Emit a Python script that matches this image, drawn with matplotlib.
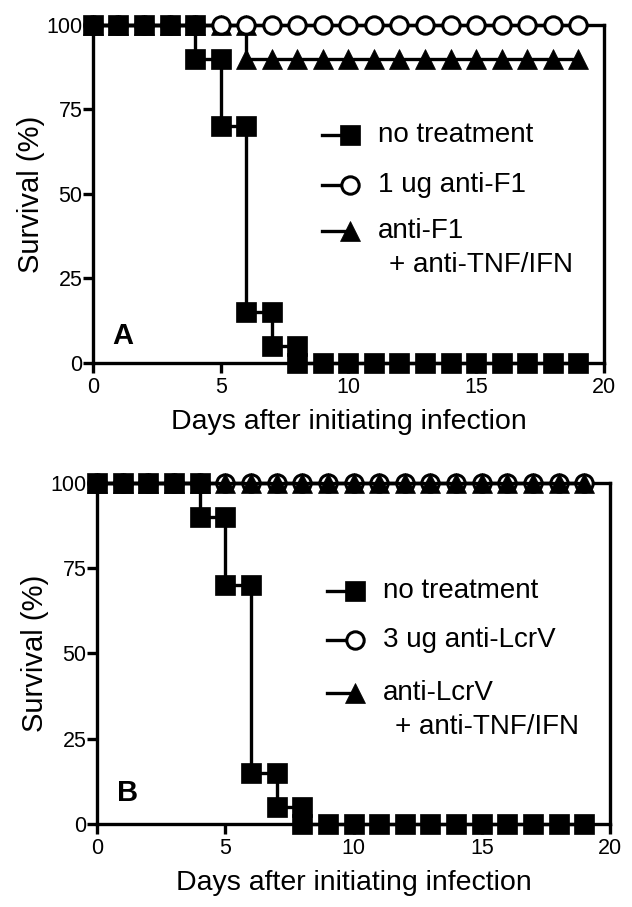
import matplotlib
matplotlib.use("Agg")
import matplotlib.pyplot as plt

plt.rcParams['font.family'] = ['Liberation Sans', 'DejaVu Sans']

# Survival data (% alive), one value per day
days = list(range(20))
a_none = [100, 100, 100, 100, 90, 70, 15, 5, 0, 0, 0, 0, 0, 0, 0, 0, 0, 0, 0, 0]
a_f1 = [100] * 20
a_combo = [100, 100, 100, 100, 100, 100, 90, 90, 90, 90, 90, 90, 90, 90, 90, 90, 90, 90, 90, 90]
b_none = [100, 100, 100, 100, 90, 70, 15, 5, 0, 0, 0, 0, 0, 0, 0, 0, 0, 0, 0, 0]
b_lcrv = [100] * 20
b_combo = [100] * 20

a_labels = ["no treatment", "1 ug anti-F1", "anti-F1\n+ anti-TNF/IFN"]
b_labels = ["no treatment", "3 ug anti-LcrV", "anti-LcrV\n+ anti-TNF/IFN"]
x_ticks = [0, 5, 10, 15, 20]
y_ticks = [0, 25, 50, 75, 100]

LW = 2.4


def km_steps(d, s):
    # Kaplan-Meier style vertices: a marker before and after each drop
    xs, ys = [d[0]], [s[0]]
    for i in range(1, len(d)):
        if s[i] != s[i - 1]:
            xs.append(d[i])
            ys.append(s[i - 1])
        xs.append(d[i])
        ys.append(s[i])
    return xs, ys


styles = [
    dict(marker="s", ms=14.5, mfc="black", mec="black", mew=0.5),
    dict(marker="o", ms=12.5, mfc="white", mec="black", mew=2.2),
    dict(marker="^", ms=14, mfc="black", mec="black", mew=0.5),
]


def panel(ax, series, labels, letter, zorders, leg_rows, letter_pos):
    for s, st, z in zip(series, styles, zorders):
        xs, ys = km_steps(days, s)
        ax.plot(xs, ys, color="black", lw=LW, clip_on=False, zorder=z, **st)

    ax.set_xlim(0, 20)
    ax.set_ylim(0, 100)
    ax.set_xticks(x_ticks)
    ax.set_yticks(y_ticks)
    ax.tick_params(direction="out", length=7, width=LW, labelsize=15.5)
    ax.tick_params(axis="x", pad=3)
    ax.tick_params(axis="y", pad=0.5)
    for sp in ax.spines.values():
        sp.set_linewidth(LW)
    ax.set_xlabel("Days after initiating infection", fontsize=20.5, labelpad=8)
    ax.set_ylabel("Survival (%)", fontsize=21, labelpad=1)
    ax.text(letter_pos[0], letter_pos[1], letter, transform=ax.transAxes,
            fontsize=21, fontweight="bold", ha="center", va="center")

    # hand-made legend: short line ending in the marker
    for yy, lab, st in zip(leg_rows, labels, styles):
        ax.plot([0.448, 0.503], [yy, yy], transform=ax.transAxes, color="black",
                lw=LW, clip_on=False, zorder=6)
        ax.plot([0.503], [yy], transform=ax.transAxes, color="black",
                clip_on=False, zorder=7, **st)
        lines = lab.split("\n")
        ax.text(0.558, yy, lines[0], transform=ax.transAxes, fontsize=20,
                ha="left", va="center")
        if len(lines) > 1:
            ax.text(0.58, yy - 0.1, lines[1], transform=ax.transAxes,
                    fontsize=20, ha="left", va="center")


fig = plt.figure(figsize=(6.32, 9.07), dpi=100)
ax_a = fig.add_axes([0.147, 0.5998, 0.8085, 0.3727])
ax_b = fig.add_axes([0.1535, 0.0915, 0.8117, 0.376])

panel(ax_a, [a_none, a_f1, a_combo], a_labels, "A", [5, 4, 3],
      [0.675, 0.527, 0.39], (0.059, 0.08))
panel(ax_b, [b_none, b_lcrv, b_combo], b_labels, "B", [5, 3, 4],
      [0.684, 0.54, 0.384], (0.06, 0.092))

fig.savefig("out.png", dpi=100)
